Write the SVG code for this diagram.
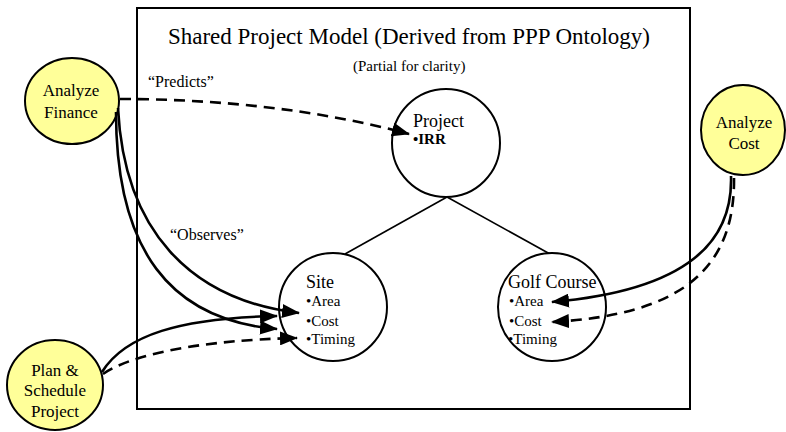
<svg xmlns="http://www.w3.org/2000/svg" width="786" height="432" viewBox="0 0 786 432">
  <style>
    text { font-family: "Liberation Serif", "Times New Roman", serif; fill: #000; }
    .frame { fill: none; stroke: #000; stroke-width: 2; }
    .entity { fill: #fff; stroke: #000; stroke-width: 2; }
    .actor { fill: #ffff99; stroke: #000; stroke-width: 2; }
    .link { fill: none; stroke: #000; stroke-width: 1.6; }
    .flow { fill: none; stroke: #000; stroke-width: 2.6; }
    .flow.dash { stroke-dasharray: 11 7; }
    .title { font-family: "Liberation Serif", serif; font-size: 23px; }
    .note { font-family: "Liberation Serif", serif; font-size: 15px; }
    .label { font-family: "Liberation Serif", serif; font-size: 18px; }
    .item { font-family: "Liberation Serif", serif; font-size: 15px; }
    .quote { font-family: "Liberation Serif", serif; font-size: 16px; }
    .actor-text { font-family: "Liberation Serif", serif; font-size: 17px; text-anchor: middle; }
  </style>
  <defs>
    <marker id="arrow" markerUnits="userSpaceOnUse" markerWidth="18" markerHeight="14" refX="17" refY="7" orient="auto">
      <path d="M0,0 L18,7 L0,14 Z" fill="#000"/>
    </marker>
  </defs>

  <!-- shared model frame -->
  <rect class="frame" x="137" y="8" width="553" height="401"/>
  <text class="title" x="409" y="44" text-anchor="middle">Shared Project Model (Derived from PPP Ontology)</text>
  <text class="note" x="353" y="71">(Partial for clarity)</text>

  <!-- hierarchy lines -->
  <g id="hierarchy">
    <line class="link" x1="447" y1="197" x2="345" y2="254"/>
    <line class="link" x1="447" y1="197" x2="550" y2="254"/>
  </g>

  <g id="project">
    <circle class="entity" cx="446" cy="143" r="54"/>
    <text class="label" x="413" y="127">Project</text>
    <text class="item" x="413" y="144" font-weight="bold" font-size="13">•IRR</text>
  </g>

  <g id="site">
    <circle class="entity" cx="333" cy="307" r="54"/>
    <text class="label" x="306" y="288">Site</text>
    <text class="item" x="306" y="306">•Area</text>
    <text class="item" x="306" y="326">•Cost</text>
    <text class="item" x="306" y="344">•Timing</text>
  </g>

  <g id="golf-course">
    <circle class="entity" cx="552" cy="307" r="54"/>
    <text class="label" x="508" y="288">Golf Course</text>
    <text class="item" x="509" y="306">•Area</text>
    <text class="item" x="509" y="326">•Cost</text>
    <text class="item" x="508" y="344">•Timing</text>
  </g>

  <g id="analyze-finance">
    <ellipse class="actor" cx="72" cy="101" rx="47" ry="43"/>
    <text class="actor-text" x="71" y="96">Analyze</text>
    <text class="actor-text" x="71" y="118">Finance</text>
  </g>

  <g id="analyze-cost">
    <ellipse class="actor" cx="743" cy="130" rx="42" ry="45"/>
    <text class="actor-text" x="744" y="128">Analyze</text>
    <text class="actor-text" x="744" y="149">Cost</text>
  </g>

  <g id="plan-schedule">
    <ellipse class="actor" cx="55" cy="385" rx="48" ry="45"/>
    <text class="actor-text" x="55" y="376">Plan &amp;</text>
    <text class="actor-text" x="55" y="396">Schedule</text>
    <text class="actor-text" x="55" y="417">Project</text>
  </g>

  <!-- connectors -->
  <g id="connectors">
    <path class="flow dash" d="M120,99 C220,99 320,110 409,134" marker-end="url(#arrow)"/>
    <path class="flow" d="M118,108 C124,230 190,300 299,313" marker-end="url(#arrow)"/>
    <path class="flow" d="M116,112 C116,250 170,320 277,329" marker-end="url(#arrow)"/>
    <path class="flow" d="M102,372 C125,335 180,318 277,316" marker-end="url(#arrow)"/>
    <path class="flow dash" d="M103,374 C130,355 200,340 297,338" marker-end="url(#arrow)"/>
    <path class="flow" d="M731,176 C733,240 690,290 552,302" marker-end="url(#arrow)"/>
    <path class="flow dash" d="M734,178 C735,270 680,315 552,322" marker-end="url(#arrow)"/>
  </g>

  <text class="quote" x="148" y="87">“Predicts”</text>
  <text class="quote" x="170" y="240">“Observes”</text>
</svg>
